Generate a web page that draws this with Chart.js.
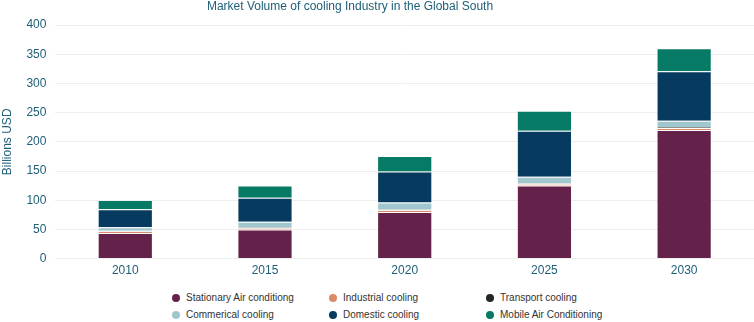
<!DOCTYPE html>
<html>
<head>
<meta charset="utf-8">
<script src="https://cdn.jsdelivr.net/npm/chart.js@4/dist/chart.umd.min.js"></script>
<style>
  html, body { margin: 0; padding: 0; background: #fff; }
  #wrap { position: relative; width: 754px; height: 322px; }
  #chart { position: absolute; left: 0; top: 0; }
  #legend { position: absolute; left: 0; top: 290px; width: 754px;
            font-family: "Liberation Sans", Arial, sans-serif; font-size: 10px; color: #333; }
  .item { position: absolute; white-space: nowrap; line-height: 12px; }
  .dot { display: inline-block; width: 8px; height: 8px; border-radius: 50%;
         margin-right: 6px; vertical-align: -1px; }
</style>
</head>
<body>
<div id="wrap">
  <canvas id="chart" width="754" height="283"></canvas>
  <div id="legend"></div>
</div>
<script>
// Market volume by segment, billions USD
const years = ['2010', '2015', '2020', '2025', '2030'];
const stationaryAC = [44, 50, 80, 125, 220];
const industrialCooling = [3, 2.5, 3, 3, 3.5];
const transportCooling = [0.5, 0.5, 1, 1, 2];
const commercialCooling = [6, 10, 12, 11, 10.5];
const domesticCooling = [31, 41, 53, 79, 85];
const mobileAC = [16, 21, 26.5, 34, 39];

const seriesNames = ['Stationary Air conditiong', 'Industrial cooling', 'Transport cooling',
                     'Commerical cooling', 'Domestic cooling', 'Mobile Air Conditioning'];
const seriesValues = [stationaryAC, industrialCooling, transportCooling,
                      commercialCooling, domesticCooling, mobileAC];
const seriesColors = ['#64224a', '#d98b6b', '#222629', '#9fc7cd', '#063a5e', '#067a64'];

const titleText = 'Market Volume of cooling Industry in the Global South';
const tealText = '#1f6079';
const fontFamily = '"Liberation Sans", Arial, sans-serif';

// title drawn at a fixed offset above the plot
const titlePlugin = {
  id: 'offsetTitle',
  afterDraw(chart) {
    const ctx = chart.ctx;
    ctx.save();
    ctx.font = '12px ' + fontFamily;
    ctx.fillStyle = tealText;
    ctx.textAlign = 'center';
    ctx.textBaseline = 'middle';
    ctx.fillText(titleText, 350, 7);
    ctx.restore();
  }
};

new Chart(document.getElementById('chart'), {
  type: 'bar',
  data: {
    labels: years,
    datasets: seriesNames.map((name, i) => ({
      label: name,
      data: seriesValues[i],
      backgroundColor: seriesColors[i],
      borderColor: 'rgba(255,255,255,0.12)',
      borderWidth: 1,
      categoryPercentage: 1.0,
      barPercentage: 0.395
    }))
  },
  options: {
    responsive: false,
    animation: false,
    layout: { padding: { top: 25, right: 0, left: 0, bottom: 0 } },
    plugins: {
      legend: { display: false },
      title: { display: false },
      tooltip: { enabled: false }
    },
    scales: {
      x: {
        stacked: true,
        grid: { display: false, drawTicks: false, tickLength: 0 },
        border: { display: false },
        ticks: { color: tealText, font: { family: fontFamily, size: 12 }, padding: 5 }
      },
      y: {
        stacked: true,
        min: 0,
        max: 400,
        grid: { color: '#eeeeee', lineWidth: 1, drawTicks: false },
        border: { display: false },
        ticks: { stepSize: 50, color: tealText, font: { family: fontFamily, size: 12 }, padding: 9 },
        title: { display: true, text: 'Billions USD', color: tealText,
                 font: { family: fontFamily, size: 12 }, padding: { top: 0, bottom: 3 } }
      }
    }
  },
  plugins: [titlePlugin]
});

// legend in three aligned columns
const legendEl = document.getElementById('legend');
const colX = [172, 329, 486];
seriesNames.forEach((name, i) => {
  const row = i < 3 ? 0 : 1;
  const col = i % 3;
  const el = document.createElement('div');
  el.className = 'item';
  el.style.left = colX[col] + 'px';
  el.style.top = (row * 17 + 2) + 'px';
  el.innerHTML = '<span class="dot" style="background:' + seriesColors[i] + '"></span>' + name;
  legendEl.appendChild(el);
});
</script>
</body>
</html>
